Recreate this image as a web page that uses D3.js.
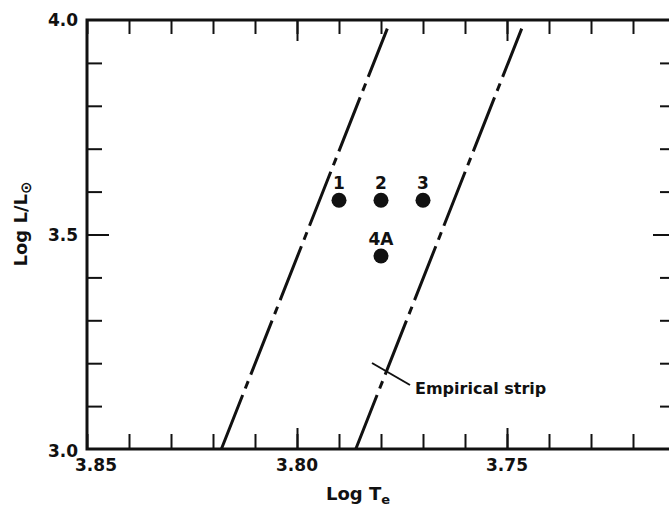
<!DOCTYPE html>
<html>
<head>
<meta charset="utf-8">
<script src="https://cdn.jsdelivr.net/npm/d3@7/dist/d3.min.js"></script>
<style>
  html, body { margin: 0; padding: 0; background: #fff; }
  svg { display: block; }
  text { font-family: "DejaVu Sans", sans-serif; font-weight: bold; fill: #111; }
</style>
</head>
<body>
<svg id="chart" width="669" height="507"></svg>
<script>
// Cepheid models in the HR diagram (log Te vs log L/Lsun)
const modelNames = ["1", "2", "3", "4A"];
const modelLogTe = [3.79, 3.78, 3.77, 3.78];
const modelLogL  = [3.58, 3.58, 3.58, 3.45];

// Edges of the empirical instability strip: [logTe, logL] end points
const stripBlue = [[3.818, 3.0], [3.7785, 3.98]];
const stripRed  = [[3.786, 3.0], [3.7465, 3.98]];

// Axis ticks and labels
const xMinorTicks = [3.85, 3.84, 3.83, 3.82, 3.81, 3.80, 3.79, 3.78, 3.77, 3.76, 3.75, 3.74, 3.73, 3.72, 3.71];
const xMajorTicks = [3.80, 3.75];
const xTickLabels = ["3.85", "3.80", "3.75"];
const xLabelValues = [3.85, 3.80, 3.75];
const yMinorTicks = [3.1, 3.2, 3.3, 3.4, 3.6, 3.7, 3.8, 3.9];
const yMajorTicks = [3.5];
const yTickLabels = ["3.0", "3.5", "4.0"];
const yLabelValues = [3.0, 3.5, 4.0];

const svg = d3.select("#chart");
const plotL = 87, plotR = 675, plotT = 20, plotB = 449;

const x = d3.scaleLinear().domain([3.85, 3.71]).range([plotL, plotR]);
const y = d3.scaleLinear().domain([3.0, 4.0]).range([plotB, plotT]);

// tick marks on all four sides, pointing inward
function ticks(axisFn, vals, size, transform) {
  const g = svg.append("g").attr("transform", transform)
    .call(axisFn.tickValues(vals).tickSize(size).tickFormat(""));
  g.select(".domain").remove();
  g.selectAll(".tick line").attr("stroke", "#111").attr("stroke-width", 2);
}
ticks(d3.axisBottom(x), xMinorTicks, -15, `translate(0,${plotB})`);
ticks(d3.axisBottom(x), xMajorTicks, -21, `translate(0,${plotB})`);
ticks(d3.axisTop(x), xMinorTicks, -14, `translate(0,${plotT})`);
ticks(d3.axisTop(x), xMajorTicks, -21, `translate(0,${plotT})`);
ticks(d3.axisLeft(y), yMinorTicks, -15, `translate(${plotL},0)`);
ticks(d3.axisLeft(y), yMajorTicks, -22, `translate(${plotL},0)`);
ticks(d3.axisRight(y), yMinorTicks, -15, `translate(${plotR},0)`);
ticks(d3.axisRight(y), yMajorTicks, -22, `translate(${plotR},0)`);

// frame
svg.append("rect")
  .attr("x", plotL).attr("y", plotT)
  .attr("width", plotR - plotL).attr("height", plotB - plotT)
  .attr("fill", "none").attr("stroke", "#111").attr("stroke-width", 3);

// tick labels
svg.selectAll(".xl").data(xTickLabels).enter().append("text")
  .attr("x", (d, i) => x(xLabelValues[i]) + (i === 0 ? 9 : 0))
  .attr("y", 471)
  .attr("text-anchor", "middle")
  .attr("font-size", 17)
  .text(d => d);
svg.selectAll(".yl").data(yTickLabels).enter().append("text")
  .attr("x", 78)
  .attr("y", (d, i) => y(yLabelValues[i]) + (i === 0 ? 8 : 6))
  .attr("text-anchor", "end")
  .attr("font-size", 17)
  .text(d => d);

// axis titles
const xt = svg.append("text").attr("x", 358).attr("y", 500)
  .attr("text-anchor", "middle").attr("font-size", 18);
xt.append("tspan").text("Log T");
xt.append("tspan").attr("font-size", 13).attr("dy", 4).text("e");

const yt = svg.append("text")
  .attr("transform", "translate(27,224) rotate(-90)")
  .attr("text-anchor", "middle").attr("font-size", 18);
yt.append("tspan").text("Log L/L");
yt.append("tspan").attr("font-size", 15).attr("dy", 4).text("\u2299");

// instability strip edges (long dash, short dash)
const line = d3.line().x(d => x(d[0])).y(d => y(d[1]));
[stripBlue, stripRed].forEach(edge => {
  svg.append("path").attr("d", line(edge))
    .attr("fill", "none").attr("stroke", "#111")
    .attr("stroke-width", 3)
    .attr("stroke-dasharray", "58,7,8,7");
});

// annotation for the strip
svg.append("line")
  .attr("x1", 372).attr("y1", 363).attr("x2", 410).attr("y2", 385)
  .attr("stroke", "#111").attr("stroke-width", 2);
svg.append("text").attr("x", 415).attr("y", 394)
  .attr("font-size", 16).text("Empirical strip");

// model points with their labels
svg.selectAll(".pt").data(modelNames).enter().append("circle")
  .attr("cx", (d, i) => x(modelLogTe[i]))
  .attr("cy", (d, i) => y(modelLogL[i]))
  .attr("r", 7.5)
  .attr("fill", "#111");
svg.selectAll(".pl").data(modelNames).enter().append("text")
  .attr("x", (d, i) => x(modelLogTe[i]))
  .attr("y", (d, i) => y(modelLogL[i]) - 11)
  .attr("text-anchor", "middle")
  .attr("font-size", 17)
  .text(d => d);
</script>
</body>
</html>
